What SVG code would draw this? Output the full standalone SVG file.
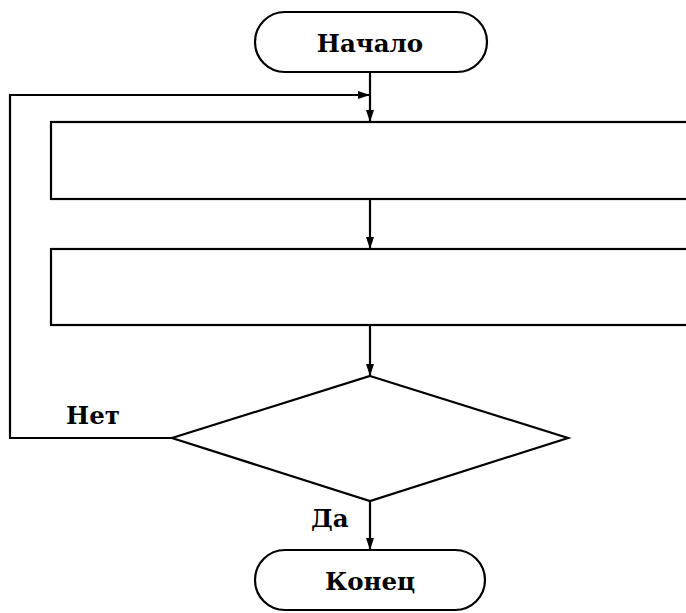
<svg xmlns="http://www.w3.org/2000/svg" width="686" height="613" viewBox="0 0 686 613">
<style>
.s{fill:none;stroke:#000;stroke-width:2.2}
.t{font-family:"DejaVu Serif",serif;font-weight:bold;font-size:24.5px;fill:#000}
</style>
<defs>
<marker id="a" viewBox="0 0 12 8" refX="12" refY="4" markerWidth="12" markerHeight="8" markerUnits="userSpaceOnUse" orient="auto">
<path d="M0,0 L12,4 L0,8 Z" fill="#000"/>
</marker>
</defs>
<rect width="686" height="613" fill="#fff"/>
<g id="start">
<rect class="s" x="255" y="12" width="232" height="60" rx="30"/>
<text class="t" x="370" y="52" text-anchor="middle">Начало</text>
</g>
<g id="proc1">
<rect class="s" x="51" y="122" width="660" height="77"/>
</g>
<g id="proc2">
<rect class="s" x="51" y="249" width="660" height="76"/>
</g>
<g id="decision">
<polygon class="s" points="370,376 568,438 370,501 172,438"/>
</g>
<g id="end">
<rect class="s" x="255" y="550" width="230" height="60" rx="30"/>
<text class="t" x="370" y="590" text-anchor="middle">Конец</text>
</g>
<g id="connectors">
<line class="s" x1="370" y1="72" x2="370" y2="122" marker-end="url(#a)"/>
<line class="s" x1="370" y1="199" x2="370" y2="249" marker-end="url(#a)"/>
<line class="s" x1="370" y1="325" x2="370" y2="376" marker-end="url(#a)"/>
<line class="s" x1="370" y1="501" x2="370" y2="550" marker-end="url(#a)"/>
<polyline class="s" points="172,438 10,438 10,95 370,95" marker-end="url(#a)"/>
<text class="t" x="66" y="424">Нет</text>
<text class="t" x="311" y="527">Да</text>
</g>
</svg>
